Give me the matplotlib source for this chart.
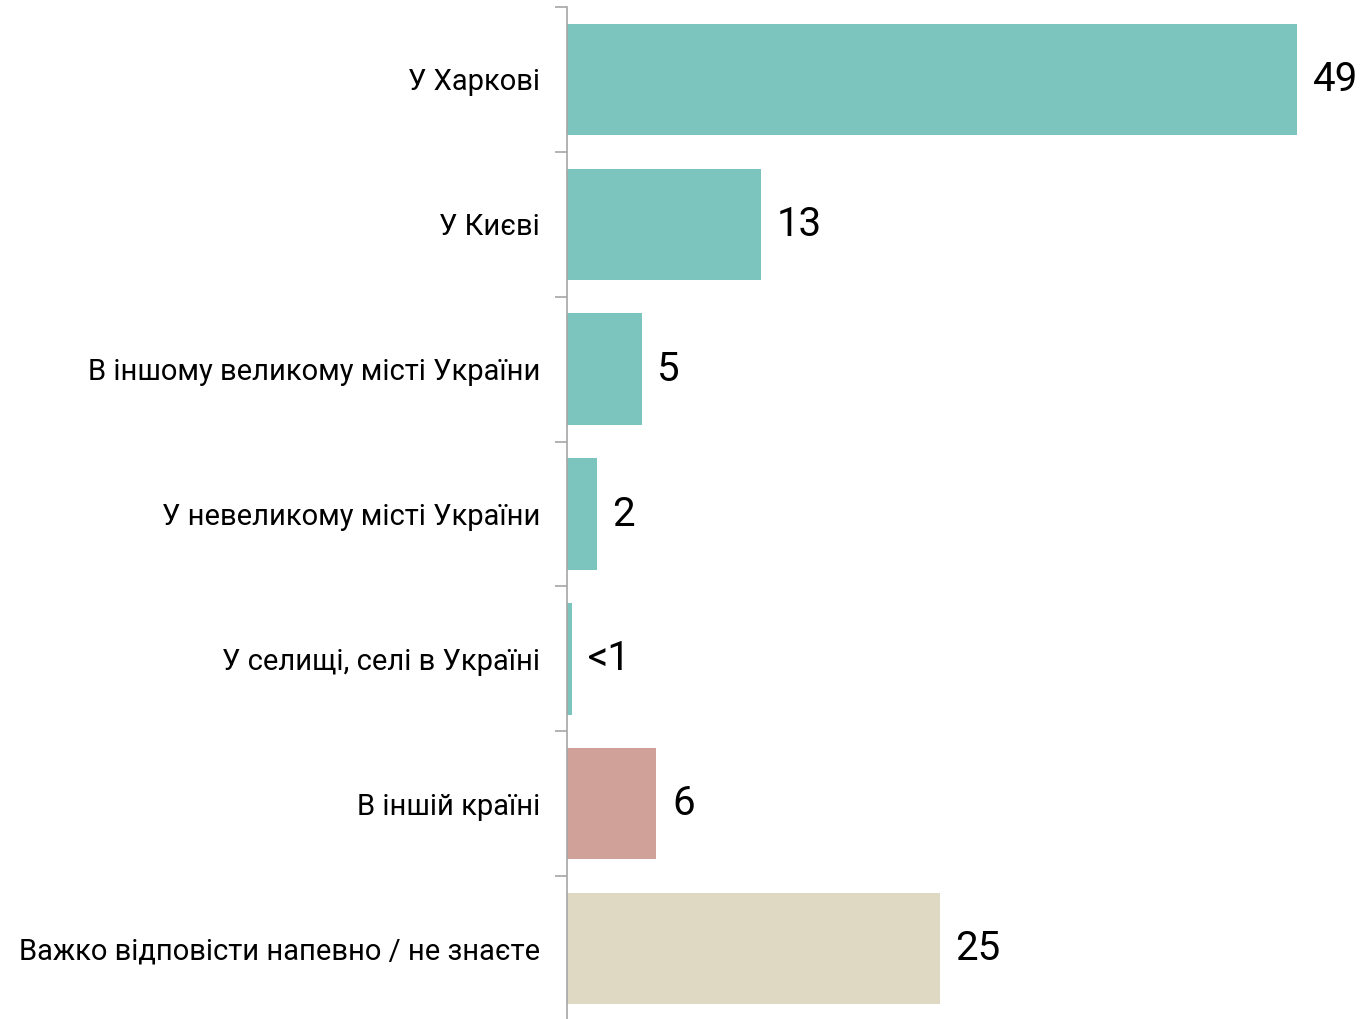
import matplotlib
matplotlib.use('Agg')
import matplotlib.pyplot as plt

plt.rcParams['font.family'] = ['Roboto', 'DejaVu Sans']

# Data
categories = ['У Харкові', 'У Києві', 'В іншому великому місті України',
              'У невеликому місті України', 'У селищі, селі в Україні',
              'В іншій країні', 'Важко відповісти напевно / не знаєте']
values = [49, 13, 5, 2, 0.35, 6, 25]
value_labels = ['49', '13', '5', '2', '<1', '6', '25']
bar_colors = ['#7CC4BE', '#7CC4BE', '#7CC4BE', '#7CC4BE', '#7CC4BE',
              '#D0A199', '#DFD9C3']

W, H = 1367, 1019
fig = plt.figure(figsize=(W / 100, H / 100), dpi=100)
fig.set_facecolor('white')

# axis spans from y=7 to y=1021 (slightly past the bottom edge)
left = 567 / W
width = 53 * 14.9 / W
top = 1 - 7 / H
bottom = 1 - 1021 / H
ax = fig.add_axes([left, bottom, width, top - bottom])

n = len(categories)
ypos = list(range(n))
ax.barh(ypos, values, height=0.77, color=bar_colors)
ax.set_xlim(0, 53)
ax.set_ylim(n - 0.5, -0.5)

for y, v, lab in zip(ypos, values, value_labels):
    ax.text(v + 1.05, y, lab, va='center', ha='left', fontsize=29, color='black')

# category labels
ax.set_yticks(ypos)
ax.set_yticklabels(categories, fontsize=21, color='black')
ax.tick_params(axis='y', length=0, pad=19.5)
ax.set_yticks([i - 0.5 for i in range(n + 1)], minor=True)
ax.tick_params(axis='y', which='minor', length=9, width=1.2, color='#A6A6A6')

ax.set_xticks([])
ax.spines[['top', 'right', 'bottom']].set_visible(False)
ax.spines['left'].set_color('#A6A6A6')
ax.spines['left'].set_linewidth(1.2)

fig.savefig('out.png', dpi=100, facecolor='white')
